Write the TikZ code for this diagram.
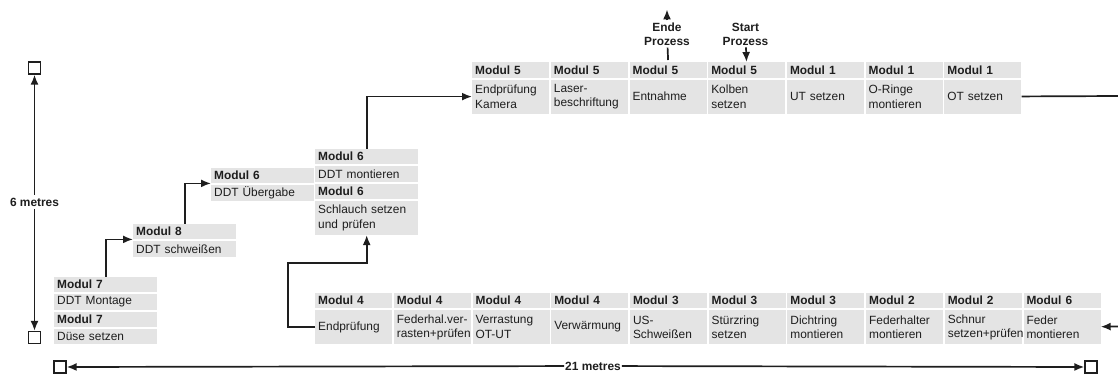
\documentclass[tikz,border=0pt]{standalone}
\usepackage{fontspec}
\setmainfont{Liberation Sans}
\usetikzlibrary{arrows.meta,positioning}
\definecolor{cellgray}{RGB}{228,228,228}
\definecolor{inkgray}{RGB}{30,30,30}
\hyphenpenalty=10000
\tikzset{
  every node/.style={font=\fontsize{11.9}{14.3}\selectfont, text=inkgray},
  head/.style={fill=cellgray, font=\fontsize{11.9}{14.3}\selectfont\bfseries, text width=71pt, inner xsep=3pt, inner ysep=0pt, minimum height=15.5pt, align=left},
  body/.style={fill=cellgray, text width=71pt, inner xsep=3pt, inner ysep=0pt, minimum height=34pt, align=left},
  shead/.style={head, text width=97pt},
  sbody/.style={body, text width=97pt, minimum height=15.5pt},
  procnote/.style={font=\fontsize{11.9}{14}\selectfont\bfseries, align=center, inner sep=2pt},
  dimtext/.style={font=\fontsize{11.9}{14}\selectfont\bfseries, fill=white, inner sep=3pt},
  sq/.style={draw=inkgray, line width=1.3pt, fill=white, minimum size=12pt, inner sep=0pt},
  line/.style={draw=inkgray, line width=1.7pt},
  arrow/.style={-{Latex[length=10pt,width=8pt]}, draw=inkgray, line width=1.7pt}
}
\begin{document}
\begin{tikzpicture}[x=1pt, y=-1pt, node distance=1.5pt and 1.3pt]
\useasboundingbox (0,0) rectangle (1118,376);

% Left stairs
\node[shead, anchor=north west] (s7a) at (54,276.5) {Modul 7};
\node[sbody, below=of s7a] (s7b) {DDT Montage};
\node[shead, below=of s7b] (s7c) {Modul 7};
\node[sbody, below=of s7c] (s7d) {Düse setzen};

\node[shead, anchor=north west] (s8a) at (133,223.5) {Modul 8};
\node[sbody, below=of s8a] (s8b) {DDT schweißen};

\node[shead, anchor=north west] (s6a) at (211,167.5) {Modul 6};
\node[sbody, below=of s6a] (s6b) {DDT Übergabe};

\node[shead, anchor=north west] (m6a) at (315,148.5) {Modul 6};
\node[sbody, below=of m6a] (m6b) {DDT montieren};
\node[shead, below=of m6b] (m6c) {Modul 6};
\node[sbody, below=of m6c, minimum height=34pt] (m6d) {Schlauch setzen\\und prüfen};

% Top row
\node[head, anchor=north west] (t1h) at (472,62) {Modul 5};
\node[body, below=of t1h] (t1) {Endprüfung\\Kamera};
\node[head, right=of t1h] (t2h) {Modul 5};
\node[body, below=of t2h] (t2) {Laser-\\beschriftung};
\node[head, right=of t2h] (t3h) {Modul 5};
\node[body, below=of t3h] (t3) {Entnahme};
\node[head, right=of t3h] (t4h) {Modul 5};
\node[body, below=of t4h] (t4) {Kolben\\setzen};
\node[head, right=of t4h] (t5h) {Modul 1};
\node[body, below=of t5h] (t5) {UT setzen};
\node[head, right=of t5h] (t6h) {Modul 1};
\node[body, below=of t6h] (t6) {O-Ringe\\montieren};
\node[head, right=of t6h] (t7h) {Modul 1};
\node[body, below=of t7h] (t7) {OT setzen};

% Bottom row
\node[head, anchor=north west] (b1h) at (315,292.5) {Modul 4};
\node[body, below=of b1h] (b1) {Endprüfung};
\node[head, right=of b1h] (b2h) {Modul 4};
\node[body, below=of b2h] (b2) {Federhal.ver-\\rasten+prüfen};
\node[head, right=of b2h] (b3h) {Modul 4};
\node[body, below=of b3h] (b3) {Verrastung\\OT-UT};
\node[head, right=of b3h] (b4h) {Modul 4};
\node[body, below=of b4h] (b4) {Verwärmung};
\node[head, right=of b4h] (b5h) {Modul 3};
\node[body, below=of b5h] (b5) {US-\\Schweißen};
\node[head, right=of b5h] (b6h) {Modul 3};
\node[body, below=of b6h] (b6) {Stürzring\\setzen};
\node[head, right=of b6h] (b7h) {Modul 3};
\node[body, below=of b7h] (b7) {Dichtring\\montieren};
\node[head, right=of b7h] (b8h) {Modul 2};
\node[body, below=of b8h] (b8) {Federhalter\\montieren};
\node[head, right=of b8h] (b9h) {Modul 2};
\node[body, below=of b9h] (b9) {Schnur\\setzen+prüfen};
\node[head, right=of b9h] (b10h) {Modul 6};
\node[body, below=of b10h] (b10) {Feder\\montieren};

% Start / end of the process
\node[procnote] (ende) at (667,34) {Ende\\Prozess};
\node[procnote] (start) at (745.5,34) {Start\\Prozess};
\draw[line] ([yshift=2pt]t3h.north) -- (ende);
\draw[arrow] (ende.north) -- ++(0,-11);
\draw[arrow] (start) -- (t4h);

% Flow
\draw[arrow] (s7a.north) |- (s8a.south west);
\draw[arrow] (s8a.north) |- (s6a.south west);
\draw[arrow] (m6a.north) |- (t1.west);
\draw[arrow] (b1.west) -| ++(-27,-64) -| (m6d.south);
\coordinate (rtop) at (1118,96);
\coordinate (rbot) at (1118,326.5);
\draw[line] (t7) -- (rtop);
\draw[arrow] (rbot) -- (b10);

% Dimensions
\node[sq] (vtop) at (34.5,68) {};
\node[sq] (vbot) at (34.5,337.5) {};
\node[dimtext] (six) at (34.5,202) {6 metres};
\draw[arrow] (six) -- (vtop);
\draw[arrow] (six) -- (vbot);
\node[sq] (hleft) at (60,367) {};
\node[sq] (hright) at (1091,367) {};
\node[dimtext, inner sep=1pt] (tw) at (593,366) {21 metres};
\draw[arrow] (tw) -- (hleft);
\draw[arrow] (tw) -- (hright);

\end{tikzpicture}
\end{document}
